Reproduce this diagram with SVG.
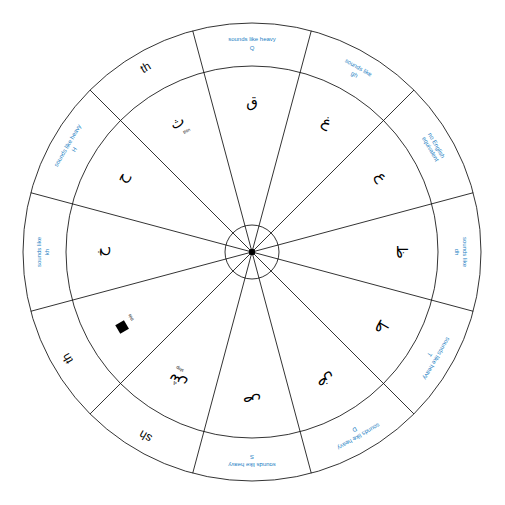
<svg xmlns="http://www.w3.org/2000/svg" width="505" height="505" viewBox="0 0 505 505">
<style>
.ln{fill:none;stroke:#000;stroke-width:0.8}
.lbl{font-family:"Liberation Sans",Arial,sans-serif;font-size:6px;fill:#1e7fc4;text-anchor:middle}
.big{font-family:"Liberation Sans",Arial,sans-serif;font-size:12px;fill:#000;text-anchor:middle}
.ar{font-family:"DejaVu Sans","Noto Sans",sans-serif;font-size:15px;fill:#000;text-anchor:middle}
.cap{font-family:"Liberation Sans",Arial,sans-serif;font-size:4.5px;fill:#000;text-anchor:middle}
</style>
<rect width="505" height="505" fill="#fff"/>
<g id="rings">
<circle class="ln" cx="252" cy="252" r="229"/>
<circle class="ln" cx="252" cy="252" r="186"/>
<circle class="ln" cx="252" cy="252" r="27"/>
</g>
<g id="connectors">
<line class="ln" x1="311.27" y1="30.8" x2="192.73" y2="473.2"/>
<line class="ln" x1="413.93" y1="90.07" x2="90.07" y2="413.93"/>
<line class="ln" x1="473.2" y1="192.73" x2="30.8" y2="311.27"/>
<line class="ln" x1="473.2" y1="311.27" x2="30.8" y2="192.73"/>
<line class="ln" x1="413.93" y1="413.93" x2="90.07" y2="90.07"/>
<line class="ln" x1="311.27" y1="473.2" x2="192.73" y2="30.8"/>
</g>
<g id="hub"><circle cx="252" cy="252" r="3.2" fill="#000"/></g>
<g id="seg0" transform="rotate(0 252 252)">
<text class="lbl" x="252" y="41">sounds like heavy</text><text class="lbl" x="252" y="50">Q</text>
<text class="ar" x="252" y="107">ق</text></g>
<g id="seg1" transform="rotate(30 252 252)">
<text class="lbl" x="252" y="41">sounds like</text><text class="lbl" x="252" y="49">gh</text>
<text class="ar" x="252" y="107">غ</text></g>
<g id="seg2" transform="rotate(60 252 252)">
<text class="lbl" x="252" y="41">no English</text><text class="lbl" x="252" y="48">equivalent</text>
<text class="ar" x="252" y="107">ع</text></g>
<g id="seg3" transform="rotate(90 252 252)">
<text class="lbl" x="252" y="41">sounds like</text><text class="lbl" x="252" y="49">dh</text>
<text class="ar" x="252" y="107">ظ</text></g>
<g id="seg4" transform="rotate(120 252 252)">
<text class="lbl" x="252" y="41">sounds like heavy</text><text class="lbl" x="252" y="49">T</text>
<text class="ar" x="252" y="107">ط</text></g>
<g id="seg5" transform="rotate(150 252 252)">
<text class="lbl" x="252" y="41">sounds like heavy</text><text class="lbl" x="252" y="49">D</text>
<text class="ar" x="252" y="107">ض</text></g>
<g id="seg6" transform="rotate(180 252 252)">
<text class="lbl" x="252" y="41">sounds like heavy</text><text class="lbl" x="252" y="49">S</text>
<text class="ar" x="252" y="107">ص</text></g>
<g id="seg7" transform="rotate(210 252 252)">
<text class="big" x="252" y="43">sh</text>
<text class="ar" x="252" y="107">ش</text><text class="cap" x="256" y="116">ship</text></g>
<g id="seg8" transform="rotate(240 252 252)">
<text class="big" x="252" y="43">th</text>
<rect x="247" y="97" width="10" height="10" fill="#000"/><text class="cap" x="256" y="116">this</text></g>
<g id="seg9" transform="rotate(270 252 252)">
<text class="lbl" x="252" y="41">sounds like</text><text class="lbl" x="252" y="49">kh</text>
<text class="ar" x="252" y="107">خ</text></g>
<g id="seg10" transform="rotate(300 252 252)">
<text class="lbl" x="252" y="41">sounds like heavy</text><text class="lbl" x="252" y="49">H</text>
<text class="ar" x="252" y="107">ح</text></g>
<g id="seg11" transform="rotate(330 252 252)">
<text class="big" x="252" y="43">th</text>
<text class="ar" x="252" y="107">ث</text><text class="cap" x="256" y="116">thin</text></g>
</svg>
